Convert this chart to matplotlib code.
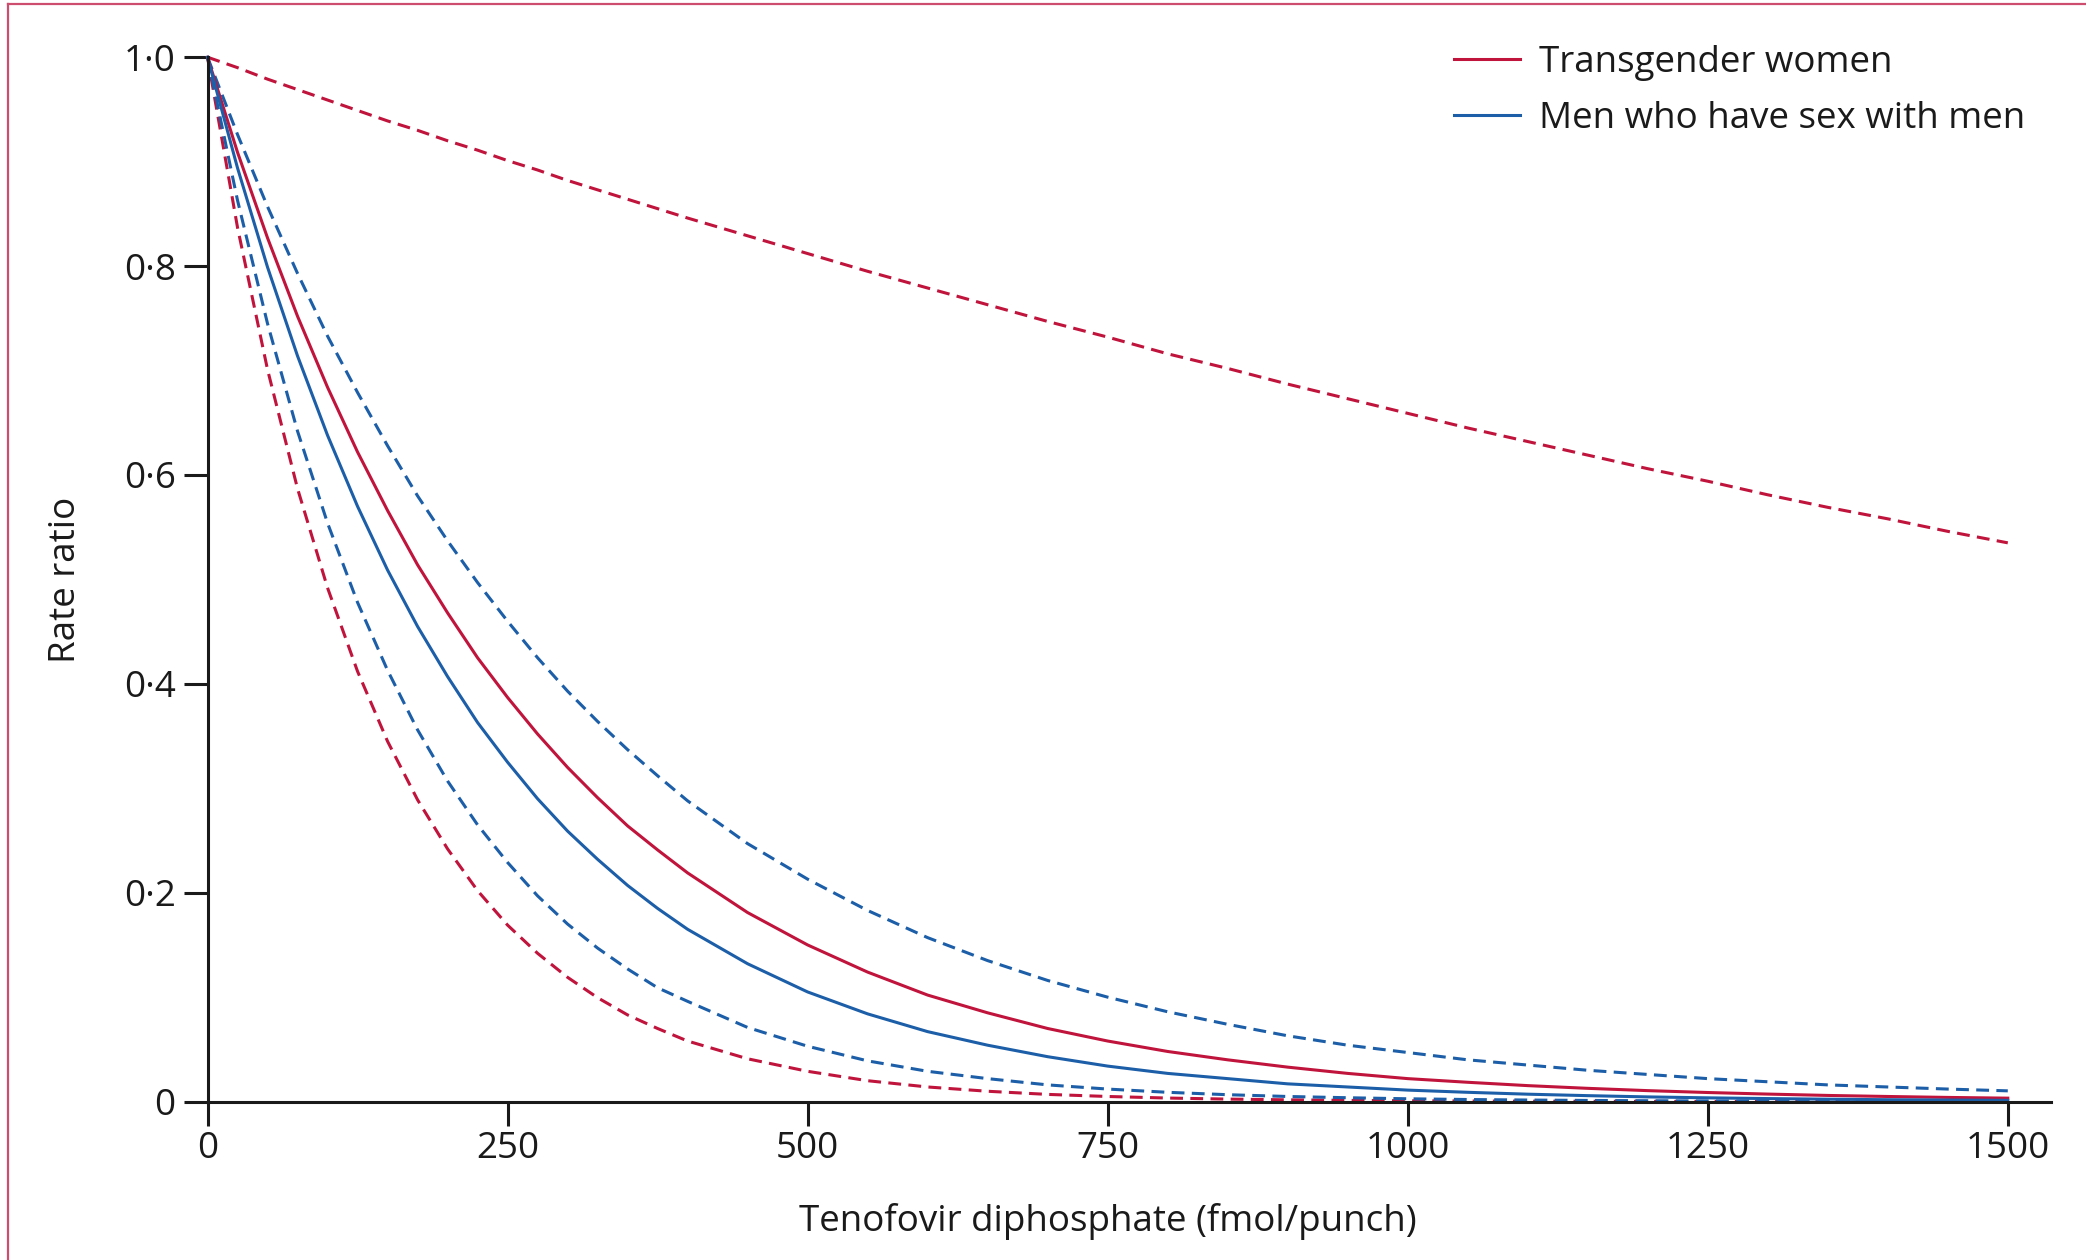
import matplotlib
matplotlib.use("Agg")
import matplotlib.pyplot as plt
from matplotlib.lines import Line2D

plt.rcParams['font.family'] = ['Open Sans', 'DejaVu Sans']

# Tenofovir diphosphate concentration (fmol/punch)
tfv_dp = [0, 25, 50, 75, 100, 125, 150, 175, 200, 225, 250, 275, 300, 325, 350,
          375, 400, 450, 500, 550, 600, 650, 700, 750, 800, 850, 900, 950, 1000,
          1050, 1100, 1150, 1200, 1250, 1300, 1350, 1400, 1450, 1500]

# Transgender women: estimate and 95% CI (upper, lower)
tw_est = [1.000, 0.909, 0.827, 0.752, 0.684, 0.622, 0.566, 0.514, 0.468, 0.425,
          0.387, 0.352, 0.320, 0.291, 0.264, 0.241, 0.219, 0.181, 0.150, 0.124,
          0.102, 0.085, 0.070, 0.058, 0.048, 0.040, 0.033, 0.027, 0.022, 0.0185,
          0.0153, 0.0127, 0.0105, 0.0087, 0.0072, 0.0059, 0.0049, 0.0040, 0.0033]
tw_upper = [1.000, 0.990, 0.979, 0.969, 0.959, 0.949, 0.939, 0.930, 0.920, 0.911,
            0.901, 0.892, 0.882, 0.873, 0.864, 0.855, 0.846, 0.829, 0.812, 0.795,
            0.779, 0.763, 0.747, 0.732, 0.716, 0.702, 0.687, 0.673, 0.659, 0.645,
            0.632, 0.619, 0.606, 0.594, 0.581, 0.569, 0.558, 0.546, 0.535]
tw_lower = [1.000, 0.837, 0.701, 0.587, 0.492, 0.412, 0.345, 0.289, 0.242, 0.202,
            0.169, 0.142, 0.119, 0.0995, 0.083, 0.070, 0.058, 0.041, 0.029, 0.020,
            0.014, 0.0099, 0.0069, 0.0049, 0.0034, 0.0024, 0.0017, 0.0012, 0.0008,
            0.0006, 0.0004, 0.0003, 0.0002, 0.0001, 0.0001, 0.0001, 0.0001, 0.0001, 0.0001]

# Men who have sex with men: estimate and 95% CI (upper, lower)
msm_est = [1.000, 0.894, 0.799, 0.714, 0.638, 0.570, 0.509, 0.455, 0.407, 0.363,
           0.325, 0.290, 0.259, 0.232, 0.207, 0.185, 0.165, 0.132, 0.105, 0.084,
           0.067, 0.054, 0.043, 0.034, 0.027, 0.022, 0.017, 0.014, 0.011, 0.0089,
           0.0071, 0.0057, 0.0045, 0.0036, 0.0029, 0.0023, 0.0018, 0.0015, 0.0012]
msm_upper = [1.000, 0.926, 0.857, 0.793, 0.733, 0.679, 0.628, 0.580, 0.537, 0.497,
             0.460, 0.425, 0.393, 0.364, 0.337, 0.312, 0.288, 0.247, 0.213, 0.183,
             0.157, 0.135, 0.116, 0.100, 0.086, 0.074, 0.063, 0.054, 0.047, 0.040,
             0.035, 0.030, 0.026, 0.022, 0.019, 0.016, 0.014, 0.012, 0.0103]
msm_lower = [1.000, 0.863, 0.745, 0.642, 0.554, 0.478, 0.413, 0.356, 0.307, 0.265,
             0.229, 0.197, 0.170, 0.147, 0.127, 0.109, 0.096, 0.071, 0.053, 0.039,
             0.029, 0.022, 0.016, 0.012, 0.0089, 0.0066, 0.0049, 0.0037, 0.0027,
             0.0020, 0.0015, 0.0011, 0.0008, 0.0006, 0.0005, 0.0003, 0.0003, 0.0002, 0.0001]

x_ticks = [0, 250, 500, 750, 1000, 1250, 1500]
y_ticks = [0, 0.2, 0.4, 0.6, 0.8, 1.0]
y_tick_labels = ["0", "0·2", "0·4", "0·6", "0·8", "1·0"]
series_labels = ["Transgender women", "Men who have sex with men"]

RED = "#C0143C"
BLUE = "#1C5EA8"
BORDER = "#CC4D6E"
INK = "#1a1a1a"

W, H = 2086, 1260
fig = plt.figure(figsize=(W / 100, H / 100), dpi=100)
x0, x1 = 207.5, 2051
y_top, y_bot = 57.2, 1101.6
ax = fig.add_axes([x0 / W, 1 - y_bot / H, (x1 - x0) / W, (y_bot - y_top) / H])

lw = 2.2
dash = (0, (4.2, 2.4))
ax.plot(tfv_dp, tw_upper, color=RED, lw=lw, linestyle=dash, clip_on=False)
ax.plot(tfv_dp, tw_lower, color=RED, lw=lw, linestyle=dash, clip_on=False)
ax.plot(tfv_dp, msm_upper, color=BLUE, lw=lw, linestyle=dash, clip_on=False)
ax.plot(tfv_dp, msm_lower, color=BLUE, lw=lw, linestyle=dash, clip_on=False)
ax.plot(tfv_dp, tw_est, color=RED, lw=lw, clip_on=False, label=series_labels[0])
ax.plot(tfv_dp, msm_est, color=BLUE, lw=lw, clip_on=False, label=series_labels[1])

ax.set_xlim(0, 1536)
ax.set_ylim(0, 1.0)
ax.set_xticks(x_ticks)
ax.set_yticks(y_ticks)
ax.set_yticklabels(y_tick_labels)

for s in ["top", "right"]:
    ax.spines[s].set_visible(False)
for s in ["left", "bottom"]:
    ax.spines[s].set_linewidth(2.2)
    ax.spines[s].set_color(INK)
    ax.spines[s].set_capstyle("projecting")

fs = 26.5
ax.tick_params(axis="both", direction="out", length=17, width=2.2, color=INK,
               labelsize=fs, labelcolor=INK)
ax.tick_params(axis="x", pad=4)
ax.tick_params(axis="y", pad=6)

ax.set_xlabel("Tenofovir diphosphate (fmol/punch)", fontsize=fs, color=INK)
ax.xaxis.set_label_coords(750 / 1536, -0.097)
ax.set_ylabel("Rate ratio", fontsize=fs, color=INK)
ax.yaxis.set_label_coords(-0.067, 0.5)

leg = ax.legend(loc="upper left", bbox_to_anchor=(1454 / W, 1 - 45 / H),
                bbox_transform=fig.transFigure, frameon=False, fontsize=fs,
                handlelength=1.8, handletextpad=0.5, labelspacing=0.55,
                borderaxespad=0, borderpad=0)
for t in leg.get_texts():
    t.set_color(INK)

# figure border (top and left edges)
fig.add_artist(Line2D([8 / W, 8 / W], [0, 1 - 3.5 / H], transform=fig.transFigure,
                      color=BORDER, lw=1.6))
fig.add_artist(Line2D([8 / W, 1], [1 - 3.5 / H, 1 - 3.5 / H], transform=fig.transFigure,
                      color=BORDER, lw=1.6))

fig.savefig("out.png", dpi=100, facecolor="white")
